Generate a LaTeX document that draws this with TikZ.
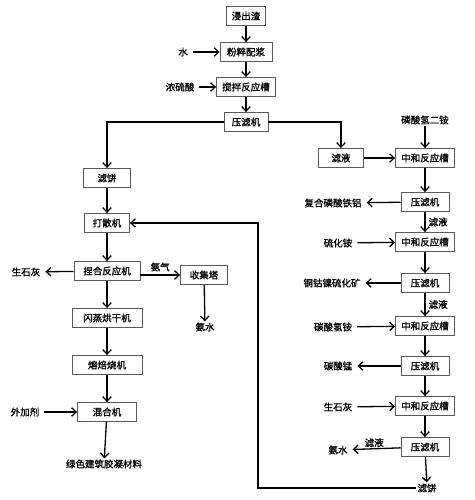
\documentclass[tikz,border=0pt]{standalone}
\usepackage{fontspec}
\setmainfont{Noto Sans CJK SC}[AutoFakeBold=1.2]
\usepackage{tikz}
\usetikzlibrary{positioning,arrows.meta}
\definecolor{boxline}{HTML}{5A5A5A}

\begin{document}
\begin{tikzpicture}[
    x=1pt, y=-1pt,
    font=\fontsize{9.5}{10}\selectfont\bfseries,
    block/.style={draw=boxline, line width=0.9pt, fill=white, minimum height=19pt, inner sep=2pt, align=center},
    lbl/.style={inner sep=1pt},
    side/.style={inner sep=5pt},
    arr/.style={-{Straight Barb[length=4.5pt,width=8.5pt]}, line width=1.3pt}
]
    \useasboundingbox (0,0) rectangle (474,500);

    % top column
    \node[block, minimum width=39pt] (slag) at (246,16) {浸出渣};
    \node[block, minimum width=52pt] (pulp) at (246,52) {粉粹配浆};
    \node[block, minimum width=59pt] (tank) at (246,87) {搅拌反应槽};
    \node[block, minimum width=44pt] (press1) at (246,122) {压滤机};
    \node[side] (water) at (183,52) {水};
    \node[side] (acid) at (180,87) {浓硫酸};

    % left column
    \node[block, minimum width=47pt] (cake1) at (107,178) {滤饼};
    \node[block, minimum width=45pt] (break) at (107,223) {打散机};
    \node[block, minimum width=66pt] (knead) at (107,271) {捏合反应机};
    \node[block, minimum width=70pt] (dryer) at (107,318) {闪蒸烘干机};
    \node[block, minimum width=70pt] (kiln) at (107,365) {熔焙烧机};
    \node[block, minimum width=59pt] (mixer) at (107,412) {混合机};
    \node[lbl] (product) at (104,464) {绿色建筑胶凝材料};
    \node[side] (lime1) at (26,272) {生石灰};
    \node[side] (additive) at (25,412) {外加剂};
    \node[block, minimum width=47pt] (tower) at (204,275) {收集塔};
    \node[lbl] (aqua1) at (205,327) {氨水};

    % right column
    \node[block, minimum width=45pt] (filt1) at (341,158) {滤液};
    \node[lbl] (dap) at (425,120) {磷酸氢二铵};
    \node[block, minimum width=59pt] (neut1) at (425,158) {中和反应槽};
    \node[block, minimum width=48pt] (press2) at (425,202) {压滤机};
    \node[block, minimum width=59pt] (neut2) at (425,242) {中和反应槽};
    \node[block, minimum width=48pt] (press3) at (425,283) {压滤机};
    \node[block, minimum width=59pt] (neut3) at (425,326) {中和反应槽};
    \node[block, minimum width=48pt] (press4) at (425,366) {压滤机};
    \node[block, minimum width=59pt] (neut4) at (425,406) {中和反应槽};
    \node[block, minimum width=48pt] (press5) at (425,447) {压滤机};
    \node[lbl] (cake2) at (427,488) {滤饼};
    \node[side] (fepal) at (333,203) {复合磷酸铁铝};
    \node[side] (sulf) at (338,243) {硫化铵};
    \node[side] (ore) at (332,283) {铜钴镍硫化矿};
    \node[side] (bicarb) at (333,327) {碳酸氢铵};
    \node[side] (mnco) at (338,366) {碳酸锰};
    \node[side] (lime2) at (338,407) {生石灰};
    \node[side] (aqua2) at (338,450) {氨水};
    \coordinate (turn) at (258,488);

    % top flow
    \draw[arr] (slag) -- (pulp);
    \draw[arr] (pulp) -- (tank);
    \draw[arr] (tank) -- (press1);
    \draw[arr] (water) -- (pulp);
    \draw[arr] (acid) -- (tank);
    \draw[arr] (press1.west) -| (cake1.north);
    \draw[arr] (press1.east) -| (filt1.north);

    % left flow
    \draw[arr] (cake1) -- (break);
    \draw[arr] (break) -- (knead);
    \draw[arr] (knead) -- (dryer);
    \draw[arr] (dryer) -- (kiln);
    \draw[arr] (kiln) -- (mixer);
    \draw[arr] (mixer) -- (product);
    \draw[arr] (knead) -- (lime1);
    \draw[arr] (additive) -- (mixer);
    \draw[arr] (knead.east |- tower) -- node[above, lbl, yshift=2pt] {氨气} (tower);
    \draw[arr] (tower) -- (aqua1);

    % right flow
    \draw[arr] (filt1) -- (neut1);
    \draw[arr] (dap) -- (neut1);
    \draw[arr] (neut1) -- (press2);
    \draw[arr] (press2) -- (fepal);
    \draw[arr] (press2) -- node[right, lbl, xshift=2pt] {滤液} (neut2);
    \draw[arr] (sulf) -- (neut2);
    \draw[arr] (neut2) -- (press3);
    \draw[arr] (press3) -- (ore);
    \draw[arr] (press3) -- node[right, lbl, xshift=2pt] {滤液} (neut3);
    \draw[arr] (bicarb) -- (neut3);
    \draw[arr] (neut3) -- (press4);
    \draw[arr] (press4) -- (mnco);
    \draw[arr] (press4) -- (neut4);
    \draw[arr] (lime2) -- (neut4);
    \draw[arr] (neut4) -- (press5);
    \draw[arr] (press5) -- node[above, lbl, pos=0.55] {滤液} (aqua2);
    \draw[arr] (press5) -- (cake2);
    \draw[arr] (cake2) -- (turn) |- (break);
\end{tikzpicture}
\end{document}
